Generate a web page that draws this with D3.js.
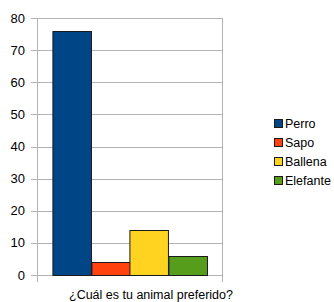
<!DOCTYPE html>
<html>
<head>
<meta charset="utf-8">
<script src="https://cdn.jsdelivr.net/npm/d3@7"></script>
<style>
  body { margin: 0; background: #fff; }
  text { font-family: "Liberation Sans", Arial, sans-serif; }
</style>
</head>
<body>
<div id="chart"></div>
<script>
// Data
const category = "¿Cuál es tu animal preferido?";
const series = ["Perro", "Sapo", "Ballena", "Elefante"];
const values = [76, 4, 14, 6];
const colors = ["#004586", "#ff420e", "#ffd320", "#579d1c"];
const yTicks = [0, 10, 20, 30, 40, 50, 60, 70, 80];

const width = 334, height = 302;
const plot = { left: 37, right: 222, top: 18, bottom: 275 };

const svg = d3.select("#chart")
    .append("svg")
    .attr("width", width)
    .attr("height", height);

const y = d3.scaleLinear()
    .domain([0, 80])
    .range([plot.bottom, plot.top]);

const x0 = d3.scaleBand()
    .domain([category])
    .range([plot.left, plot.right])
    .paddingInner(0)
    .paddingOuter(0.1);

const x1 = d3.scaleBand()
    .domain(series)
    .range([0, x0.bandwidth()]);

// Gridlines
svg.append("g")
    .selectAll("line")
    .data(yTicks)
    .enter()
    .append("line")
    .attr("x1", plot.left - 6)
    .attr("x2", plot.right)
    .attr("y1", d => Math.round(y(d)) + 0.5)
    .attr("y2", d => Math.round(y(d)) + 0.5)
    .attr("stroke", "#b3b3b3");

// Frame: left and right verticals extending below
svg.append("g")
    .selectAll("line")
    .data([plot.left, plot.right])
    .enter()
    .append("line")
    .attr("x1", d => d + 0.5)
    .attr("x2", d => d + 0.5)
    .attr("y1", plot.top)
    .attr("y2", plot.bottom + 7)
    .attr("stroke", "#b3b3b3");

// Tick labels
svg.append("g")
    .selectAll("text")
    .data(yTicks)
    .enter()
    .append("text")
    .attr("x", 25)
    .attr("y", d => y(d) + 4.5)
    .attr("text-anchor", "end")
    .attr("font-size", 13)
    .attr("fill", "#000")
    .text(d => d);

// Bars
svg.append("g")
    .attr("transform", "translate(" + x0(category) + ",0)")
    .selectAll("rect")
    .data(series)
    .enter()
    .append("rect")
    .attr("x", d => Math.round(x1(d)) + 0.5)
    .attr("y", (d, i) => Math.round(y(values[i])) + 0.5)
    .attr("width", x1.bandwidth())
    .attr("height", (d, i) => Math.round(plot.bottom - y(values[i])))
    .attr("fill", (d, i) => colors[i])
    .attr("stroke", "#1a1a1a")
    .attr("stroke-width", 1);

// X label
svg.append("text")
    .attr("x", 151)
    .attr("y", 299)
    .attr("text-anchor", "middle")
    .attr("font-size", 12.5)
    .text(category);

// Legend
const legend = svg.append("g")
    .selectAll("g")
    .data(series)
    .enter()
    .append("g")
    .attr("transform", (d, i) => "translate(274," + (119 + i * 19) + ")");

legend.append("rect")
    .attr("x", 0.5)
    .attr("y", 0.5)
    .attr("width", 8)
    .attr("height", 8)
    .attr("fill", (d, i) => colors[i])
    .attr("stroke", "#1a1a1a");

legend.append("text")
    .attr("x", 11)
    .attr("y", 9)
    .attr("font-size", 12.5)
    .text(d => d);
</script>
</body>
</html>
